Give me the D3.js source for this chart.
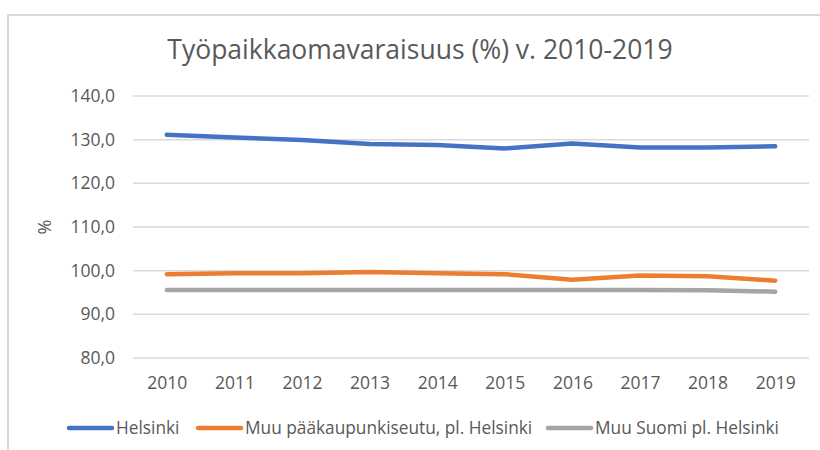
<!DOCTYPE html>
<html>
<head>
<meta charset="utf-8">
<script src="https://cdn.jsdelivr.net/npm/d3@7"></script>
<style>
  body { margin: 0; background: #fff; }
  svg { display: block; font-family: "Open Sans", "Liberation Sans", sans-serif; }
</style>
</head>
<body>
<svg id="chart" width="820" height="450"></svg>
<script>
var width = 820, height = 450;
var margin = {top: 96, right: 11, bottom: 92, left: 133};
var w = width - margin.left - margin.right;
var h = 358 - margin.top;

var years = ["2010","2011","2012","2013","2014","2015","2016","2017","2018","2019"];
var yTicks = [80, 90, 100, 110, 120, 130, 140];
var seriesNames = ["Helsinki", "Muu pääkaupunkiseutu, pl. Helsinki", "Muu Suomi pl. Helsinki"];
var helsinki = [131.1, 130.5, 129.9, 129.0, 128.8, 128.0, 129.1, 128.2, 128.2, 128.5];
var muuPks = [99.2, 99.4, 99.4, 99.7, 99.4, 99.2, 97.9, 98.9, 98.7, 97.7];
var muuSuomi = [95.6, 95.6, 95.6, 95.6, 95.6, 95.6, 95.6, 95.6, 95.5, 95.2];
var colors = ["#4472C4", "#ED7D31", "#A5A5A5"];

var svg = d3.select("#chart");

// outer frame (only left and top visible in the picture)
svg.append("path")
    .attr("d", "M8,450 L8,15 L820,15")
    .attr("fill", "none")
    .attr("stroke", "#d9d9d9")
    .attr("stroke-width", 2);

svg.append("text")
    .attr("x", 420)
    .attr("y", 59)
    .attr("text-anchor", "middle")
    .attr("fill", "#595959")
    .style("font-size", "26.5px")
    .text("Työpaikkaomavaraisuus (%) v. 2010-2019");

var chart = svg.append("g")
    .attr("transform", "translate(" + margin.left + "," + margin.top + ")");

var x = d3.scalePoint().domain(years).range([0, w]).padding(0.5);
var y = d3.scaleLinear().domain([80, 140]).range([h, 0]);

var fmt = function(d) { return d3.format(".1f")(d).replace(".", ","); };

// gridlines
chart.append("g")
    .selectAll("line")
    .data(yTicks)
    .enter().append("line")
    .attr("x1", 0).attr("x2", w)
    .attr("y1", function(d) { return y(d); })
    .attr("y2", function(d) { return y(d); })
    .attr("stroke", "#d9d9d9")
    .attr("stroke-width", 1.5);

var yAxis = chart.append("g")
    .call(d3.axisLeft(y).tickValues(yTicks).tickFormat(fmt).tickSize(0).tickPadding(18));
yAxis.select(".domain").remove();
yAxis.selectAll("text").attr("fill", "#595959").style("font-size", "17.5px")
    .style("font-family", "\"Open Sans\", sans-serif");

var xAxis = chart.append("g")
    .attr("transform", "translate(0," + h + ")")
    .call(d3.axisBottom(x).tickSize(0).tickPadding(19));
xAxis.select(".domain").remove();
xAxis.selectAll("text").attr("fill", "#595959").style("font-size", "17.5px")
    .style("font-family", "\"Open Sans\", sans-serif");

svg.append("text")
    .attr("transform", "translate(51,227) rotate(-90)")
    .attr("text-anchor", "middle")
    .attr("fill", "#595959")
    .style("font-size", "18px")
    .text("%");

var line = d3.line()
    .x(function(d, i) { return x(years[i]); })
    .y(function(d) { return y(d); });

[helsinki, muuPks, muuSuomi].forEach(function(s, i) {
    chart.append("path")
        .datum(s)
        .attr("fill", "none")
        .attr("stroke", colors[i])
        .attr("stroke-width", 4.5)
        .attr("stroke-linecap", "round")
        .attr("stroke-linejoin", "round")
        .attr("d", line);
});

// legend
var legendX = [69, 198, 548];
var legend = svg.append("g");
seriesNames.forEach(function(n, i) {
    legend.append("line")
        .attr("x1", legendX[i]).attr("x2", legendX[i] + 43)
        .attr("y1", 428).attr("y2", 428)
        .attr("stroke", colors[i])
        .attr("stroke-width", 4.5)
        .attr("stroke-linecap", "round");
    legend.append("text")
        .attr("x", legendX[i] + 47)
        .attr("y", 434)
        .attr("fill", "#595959")
        .style("font-size", "17.3px")
        .text(n);
});
</script>
</body>
</html>
